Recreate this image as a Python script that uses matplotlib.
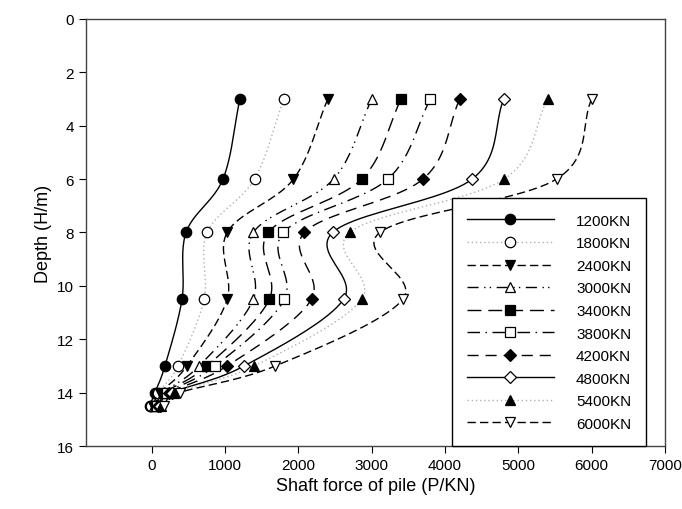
import numpy as np
import matplotlib
matplotlib.use('Agg')
import matplotlib.pyplot as plt

plt.rcParams['font.family'] = ['Liberation Sans', 'DejaVu Sans']

# depth of the gauges (m)
depth = [3, 6, 8, 10.5, 13, 14, 14.5]

loads = ['1200KN', '1800KN', '2400KN', '3000KN', '3400KN',
         '3800KN', '4200KN', '4800KN', '5400KN', '6000KN']

# shaft force (KN) read at each depth, one list per load
f1200 = [1200, 970, 466, 411, 178, 40, -30]
f1800 = [1800, 1400, 753, 712, 356, 80, -10]
f2400 = [2400, 1932, 1027, 1027, 479, 110, 10]
f3000 = [3000, 2479, 1384, 1384, 644, 150, 30]
f3400 = [3400, 2863, 1589, 1603, 753, 170, 50]
f3800 = [3800, 3219, 1795, 1808, 863, 200, 70]
f4200 = [4200, 3699, 2082, 2178, 1027, 230, 90]
f4800 = [4800, 4370, 2466, 2616, 1260, 270, 110]
f5400 = [5400, 4808, 2699, 2863, 1397, 300, 130]
f6000 = [6000, 5521, 3110, 3425, 1685, 380, 160]
forces = [f1200, f1800, f2400, f3000, f3400, f3800, f4200, f4800, f5400, f6000]

# style for each series
styles = [
    dict(marker='o', mfc='k', ls='-', color='k'),
    dict(marker='o', mfc='w', ls=(0, (1, 2)), color='#b0b0b0'),
    dict(marker='v', mfc='k', ls=(0, (6, 3)), color='k'),
    dict(marker='^', mfc='w', ls=(0, (8, 4, 1, 3, 1, 4)), color='k'),
    dict(marker='s', mfc='k', ls=(0, (10, 5)), color='k'),
    dict(marker='s', mfc='w', ls=(0, (9, 4, 1, 4)), color='k'),
    dict(marker='D', mfc='k', ls=(0, (8, 5)), color='k'),
    dict(marker='D', mfc='w', ls='-', color='k'),
    dict(marker='^', mfc='k', ls=(0, (1, 2)), color='#b0b0b0'),
    dict(marker='v', mfc='w', ls=(0, (6, 3)), color='k'),
]


def smooth(xs, ys, n=24):
    # catmull-rom curve through the points, only for drawing the line
    p = np.column_stack([xs, ys]).astype(float)
    p = np.vstack([2 * p[0] - p[1], p, 2 * p[-1] - p[-2]])
    out = []
    t = np.linspace(0, 1, n)[:, None]
    for i in range(1, len(p) - 2):
        p0, p1, p2, p3 = p[i - 1], p[i], p[i + 1], p[i + 2]
        seg = 0.5 * ((2 * p1) + (-p0 + p2) * t +
                     (2 * p0 - 5 * p1 + 4 * p2 - p3) * t ** 2 +
                     (-p0 + 3 * p1 - 3 * p2 + p3) * t ** 3)
        out.append(seg)
    out = np.vstack(out)
    return out[:, 0], out[:, 1]


fig = plt.figure(figsize=(6.82, 5.10), dpi=100)
ax = fig.add_axes([0.126, 0.1235, 0.849, 0.8375])

handles = []
for lab, f, st in zip(loads, forces, styles):
    sx, sy = smooth(f, depth)
    ax.plot(sx, sy, ls=st['ls'], color=st['color'], lw=1.0, zorder=2)
    ms = 6.0 if st['marker'] == 'D' else 7.5
    ax.plot(f, depth, ls='none', marker=st['marker'], mfc=st['mfc'],
            mec='k', mew=0.9, ms=ms, zorder=3)
    h, = ax.plot([], [], ls=st['ls'], color=st['color'], lw=1.0,
                 marker=st['marker'], mfc=st['mfc'], mec='k', mew=0.9, ms=ms)
    handles.append(h)

ax.set_xlim(-900, 7000)
ax.set_ylim(16, 0)
ax.set_xticks(range(0, 7001, 1000))
ax.set_yticks(range(0, 17, 2))
ax.tick_params(direction='out', length=5, width=0.8, labelsize=11,
               top=False, right=False)
for s in ax.spines.values():
    s.set_color('#444444')
    s.set_linewidth(1.0)

ax.set_xlabel('Shaft force of pile (P/KN)', fontsize=13)
ax.set_ylabel('Depth (H/m)', fontsize=13)

leg = ax.legend(handles, loads, loc='lower right', bbox_to_anchor=(0.968, 0.0),
                borderaxespad=0.0, fontsize=11, handlelength=5.7,
                handletextpad=1.45, labelspacing=0.56, borderpad=1.0,
                fancybox=False, edgecolor='k', framealpha=1)
leg.get_frame().set_linewidth(1.0)

fig.savefig('out.png', dpi=100)
